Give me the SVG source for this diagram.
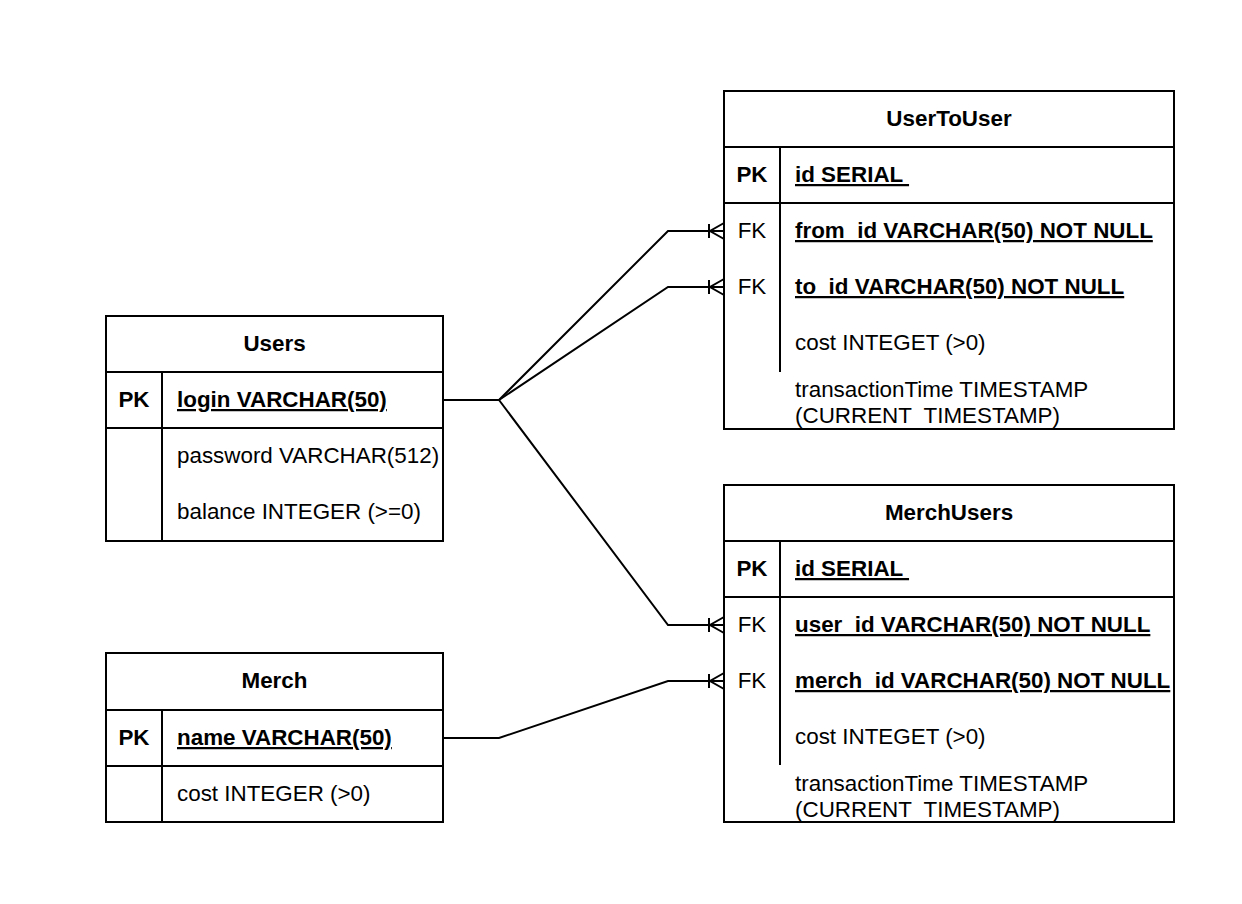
<svg xmlns="http://www.w3.org/2000/svg" width="1242" height="904" viewBox="0 0 1242 904">
<style>
text{font-family:"Liberation Sans",Arial,sans-serif;font-size:22.4px;fill:#000;white-space:pre}
.b{font-weight:bold}
.u{text-decoration:underline}
.c{text-anchor:middle}
.box{fill:#fff;stroke:#000;stroke-width:2}
.ln{stroke:#000;stroke-width:2;fill:none}
.cn{stroke:#000;stroke-width:2;fill:none}
</style>
<defs>
<marker id="many" markerUnits="userSpaceOnUse" viewBox="0 0 20 20" refX="16" refY="10" markerWidth="20" markerHeight="20" orient="auto">
<path d="M1,3 V17 M16,2 L2,10 L16,18" fill="none" stroke="#000" stroke-width="2"/>
</marker>
</defs>
<rect width="1242" height="904" fill="#fff"/>
<g id="connectors">
<polyline class="cn" points="443,400 499,400 668,231 724,231" marker-end="url(#many)"/>
<polyline class="cn" points="499,400 668,287 724,287" marker-end="url(#many)"/>
<polyline class="cn" points="499,400 668,625 724,625" marker-end="url(#many)"/>
<polyline class="cn" points="443,738 499,738 668,681 724,681" marker-end="url(#many)"/>
</g>
<g id="Users">
<rect class="box" x="106" y="316" width="337" height="225"/>
<line class="ln" x1="106" y1="372" x2="443" y2="372"/>
<line class="ln" x1="106" y1="428" x2="443" y2="428"/>
<line class="ln" x1="162" y1="372" x2="162" y2="541"/>
<text class="b c" x="274.5" y="351">Users</text>
<text class="b c" x="134" y="407">PK</text>
<text class="b u" x="177" y="407">login VARCHAR(50)</text>
<text x="177" y="463">password VARCHAR(512)</text>
<text x="177" y="519">balance INTEGER (&gt;=0)</text>
</g>
<g id="Merch">
<rect class="box" x="106" y="653" width="337" height="169"/>
<line class="ln" x1="106" y1="710" x2="443" y2="710"/>
<line class="ln" x1="106" y1="766" x2="443" y2="766"/>
<line class="ln" x1="162" y1="710" x2="162" y2="822"/>
<text class="b c" x="274.5" y="688">Merch</text>
<text class="b c" x="134" y="745">PK</text>
<text class="b u" x="177" y="745">name VARCHAR(50)</text>
<text x="177" y="801">cost INTEGER (&gt;0)</text>
</g>
<g id="UserToUser">
<rect class="box" x="724" y="91" width="450" height="338"/>
<line class="ln" x1="724" y1="147" x2="1174" y2="147"/>
<line class="ln" x1="724" y1="203" x2="1174" y2="203"/>
<line class="ln" x1="780" y1="147" x2="780" y2="372"/>
<text class="b c" x="949" y="126">UserToUser</text>
<text class="b c" x="752" y="182">PK</text>
<text class="b u" x="795" y="182">id SERIAL </text>
<text class="c" x="752" y="238">FK</text>
<text class="b u" x="795" y="238">from_id VARCHAR(50) NOT NULL</text>
<text class="c" x="752" y="294">FK</text>
<text class="b u" x="795" y="294">to_id VARCHAR(50) NOT NULL</text>
<text x="795" y="350">cost INTEGET (&gt;0)</text>
<text x="795" y="397">transactionTime TIMESTAMP</text>
<text x="795" y="423">(CURRENT  TIMESTAMP)</text>
</g>
<g id="MerchUsers">
<rect class="box" x="724" y="485" width="450" height="337"/>
<line class="ln" x1="724" y1="541" x2="1174" y2="541"/>
<line class="ln" x1="724" y1="597" x2="1174" y2="597"/>
<line class="ln" x1="780" y1="541" x2="780" y2="765"/>
<text class="b c" x="949" y="520">MerchUsers</text>
<text class="b c" x="752" y="576">PK</text>
<text class="b u" x="795" y="576">id SERIAL </text>
<text class="c" x="752" y="632">FK</text>
<text class="b u" x="795" y="632">user_id VARCHAR(50) NOT NULL</text>
<text class="c" x="752" y="688">FK</text>
<text class="b u" x="795" y="688">merch_id VARCHAR(50) NOT NULL</text>
<text x="795" y="744">cost INTEGET (&gt;0)</text>
<text x="795" y="791">transactionTime TIMESTAMP</text>
<text x="795" y="817">(CURRENT  TIMESTAMP)</text>
</g>
</svg>
